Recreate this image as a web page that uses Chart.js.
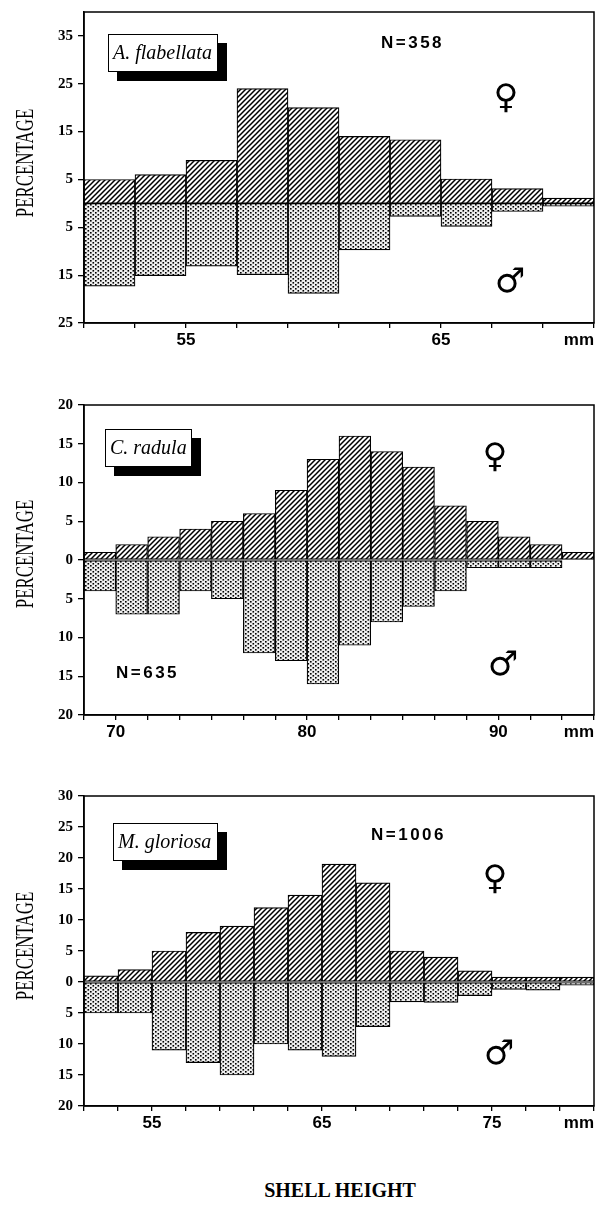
<!DOCTYPE html>
<html>
<head>
<meta charset="utf-8">
<script src="https://cdn.jsdelivr.net/npm/chart.js@4.4.1/dist/chart.umd.min.js"></script>
<style>
  body { margin: 0; background: #fff; width: 597px; height: 1207px; position: relative; overflow: hidden; }
  canvas { position: absolute; left: 0; }
  .species { position: absolute; box-sizing: border-box; height: 38px; background: #fff; border: 1.5px solid #000;
             box-shadow: 9px 9px 0 #000; font: italic 20px "Liberation Serif", serif; line-height: 35px; padding-left: 4px; white-space: nowrap; }
  .n { position: absolute; font: bold 17px "Liberation Sans", sans-serif; letter-spacing: 2.5px; transform: translateY(-50%); white-space: nowrap; }
  .sym { position: absolute; font: 34px "DejaVu Sans", sans-serif; line-height: 1; transform: translate(-50%, -50%); }
  .ylab { position: absolute; left: 25px; font: 26px "Liberation Serif", serif; white-space: nowrap; line-height: 1;
          transform: translate(-50%, -50%) rotate(-90deg) scaleX(0.65); }
  .xlab { position: absolute; font: bold 20px "Liberation Serif", serif; white-space: nowrap; transform: translate(-50%, -50%); }
</style>
</head>
<body>
<canvas id="chartA" width="597" height="385" style="top:0px"></canvas>
<canvas id="chartC" width="597" height="390" style="top:385px"></canvas>
<canvas id="chartM" width="597" height="390" style="top:775px"></canvas>

<div class="species" style="left:108px;top:34px;width:110px">A. flabellata</div>
<div class="species" style="left:105px;top:429px;width:87px">C. radula</div>
<div class="species" style="left:113px;top:823px;width:105px">M. gloriosa</div>

<div class="n" style="left:381px;top:43px">N=358</div>
<div class="n" style="left:116px;top:673px">N=635</div>
<div class="n" style="left:371px;top:835px">N=1006</div>

<div class="sym" style="left:506px;top:96px">♀</div>
<div class="sym" style="left:510px;top:280px">♂</div>
<div class="sym" style="left:495px;top:455px">♀</div>
<div class="sym" style="left:503px;top:663px">♂</div>
<div class="sym" style="left:495px;top:877px">♀</div>
<div class="sym" style="left:499px;top:1052px">♂</div>

<div class="ylab" style="top:163px">PERCENTAGE</div>
<div class="ylab" style="top:554px">PERCENTAGE</div>
<div class="ylab" style="top:946px">PERCENTAGE</div>

<div class="xlab" style="left:340px;top:1190px">SHELL HEIGHT</div>

<script>
// A. flabellata, 2 mm classes
const sizesA = [52, 54, 56, 58, 60, 62, 64, 66, 68, 70];
const femaleA = [5, 6, 9, 24, 20, 14, 13.3, 5.1, 3.1, 1.1];
const maleA = [17.3, 15.1, 13.1, 14.9, 18.8, 9.7, 2.7, 4.8, 1.7, 0.6];
const yTicksA = [35, 25, 15, 5, -5, -15, -25];
const xTicksA = [55, 65];

// C. radula
const sizesC = [69.17, 70.83, 72.5, 74.17, 75.83, 77.5, 79.17, 80.83, 82.5, 84.17, 85.83, 87.5, 89.17, 90.83, 92.5, 94.17];
const femaleC = [1, 2, 3, 4, 5, 6, 9, 13, 16, 14, 12, 7, 5, 3, 2, 1];
const maleC = [4, 7, 7, 4, 5, 12, 13, 16, 11, 8, 6, 4, 1, 1, 1, 0];
const yTicksC = [20, 15, 10, 5, 0, -5, -10, -15, -20];
const xTicksC = [70, 80, 90];

// M. gloriosa
const sizesM = [52, 54, 56, 58, 60, 62, 64, 66, 68, 70, 72, 74, 76, 78, 80];
const femaleM = [1, 2, 5, 8, 9, 12, 14, 19, 16, 5, 4, 1.8, 0.8, 0.8, 0.8];
const maleM = [5, 5, 11, 13, 15, 10, 11, 12, 7.2, 3.2, 3.3, 2.2, 1.2, 1.3, 0.5];
const yTicksM = [30, 25, 20, 15, 10, 5, 0, -5, -10, -15, -20];
const xTicksM = [55, 65, 75];

function hatchPattern() {
    const c = document.createElement("canvas");
    c.width = 5; c.height = 5;
    const g = c.getContext("2d");
    g.fillStyle = "#fff";
    g.fillRect(0, 0, 5, 5);
    g.strokeStyle = "#000";
    g.lineWidth = 1.5;
    g.beginPath();
    g.moveTo(-1, 6); g.lineTo(6, -1);
    g.moveTo(-1, 1); g.lineTo(1, -1);
    g.moveTo(4, 6); g.lineTo(6, 4);
    g.stroke();
    return g.createPattern(c, "repeat");
}

function dotPattern() {
    const c = document.createElement("canvas");
    c.width = 5; c.height = 4;
    const g = c.getContext("2d");
    g.fillStyle = "#eeeeee";
    g.fillRect(0, 0, 5, 4);
    g.fillStyle = "#000";
    g.fillRect(0, 0, 1.6, 1.6);
    g.fillRect(2.5, 2, 1.6, 1.6);
    return g.createPattern(c, "repeat");
}

const frame = {
    id: "frame",
    afterDraw(chart) {
        const a = chart.chartArea;
        const ctx = chart.ctx;
        ctx.save();
        ctx.strokeStyle = "#000";
        ctx.lineWidth = 1.5;
        ctx.strokeRect(a.left, a.top, a.right - a.left, a.bottom - a.top);
        ctx.restore();
    }
};

function edgesOf(sizes) {
    const step = sizes[1] - sizes[0];
    const e = [sizes[0] - step / 2];
    for (let i = 1; i < sizes.length; i++) e.push((sizes[i - 1] + sizes[i]) / 2);
    e.push(sizes[sizes.length - 1] + step / 2);
    return e;
}

function makeChart(id, sizes, female, male, yMin, yMax, yTicks, xTicks, topPad, xHeight) {
    const edges = edgesOf(sizes);
    const last = edges[edges.length - 1];
    const barStyle = {
        borderColor: "#000",
        borderWidth: 1.2,
        borderSkipped: false,
        grouped: false,
        barPercentage: 1,
        categoryPercentage: 1
    };
    return new Chart(document.getElementById(id), {
        type: "bar",
        data: {
            datasets: [
                { label: "female", data: sizes.map((s, i) => ({ x: s, y: female[i] })), backgroundColor: hatchPattern(), ...barStyle },
                { label: "male", data: sizes.map((s, i) => ({ x: s, y: -male[i] })), backgroundColor: dotPattern(), ...barStyle }
            ]
        },
        options: {
            responsive: false,
            animation: false,
            devicePixelRatio: 1,
            layout: { padding: { top: topPad, right: 3, left: 0, bottom: 0 } },
            plugins: { legend: { display: false }, tooltip: { enabled: false } },
            scales: {
                x: {
                    type: "linear",
                    min: edges[0],
                    max: last,
                    offset: false,
                    afterBuildTicks: ax => { ax.ticks = edges.map(v => ({ value: v })); },
                    afterFit: ax => { ax.height = xHeight; ax.paddingLeft = 0; ax.paddingRight = 0; },
                    grid: { offset: false, drawOnChartArea: false, color: "#000", tickLength: 5, lineWidth: 1.3 },
                    border: { color: "#000", width: 1.5 },
                    ticks: {
                        autoSkip: false,
                        maxRotation: 0,
                        align: "inner",
                        padding: 2,
                        color: "#000",
                        font: { family: "Liberation Sans", weight: "bold", size: 17 },
                        callback: v => {
                            if (Math.abs(v - last) < 0.01) return "mm";
                            const hit = xTicks.find(t => Math.abs(t - v) < 0.05);
                            return hit === undefined ? "" : String(hit);
                        }
                    }
                },
                y: {
                    min: yMin,
                    max: yMax,
                    afterBuildTicks: ax => { ax.ticks = yTicks.map(v => ({ value: v })); },
                    afterFit: ax => { ax.width = 84; ax.paddingTop = 0; ax.paddingBottom = 0; },
                    grid: { drawOnChartArea: false, color: "#000", tickLength: 6, lineWidth: 1.3 },
                    border: { color: "#000", width: 1.5 },
                    ticks: {
                        padding: 5,
                        color: "#000",
                        font: { family: "Liberation Serif", weight: "bold", size: 15 },
                        callback: v => String(Math.abs(v))
                    }
                }
            }
        },
        plugins: [frame]
    });
}

makeChart("chartA", sizesA, femaleA, maleA, -25, 40, yTicksA, xTicksA, 12, 62);
makeChart("chartC", sizesC, femaleC, maleC, -20, 20, yTicksC, xTicksC, 20, 60);
makeChart("chartM", sizesM, femaleM, maleM, -20, 30, yTicksM, xTicksM, 21, 59);
</script>
</body>
</html>
